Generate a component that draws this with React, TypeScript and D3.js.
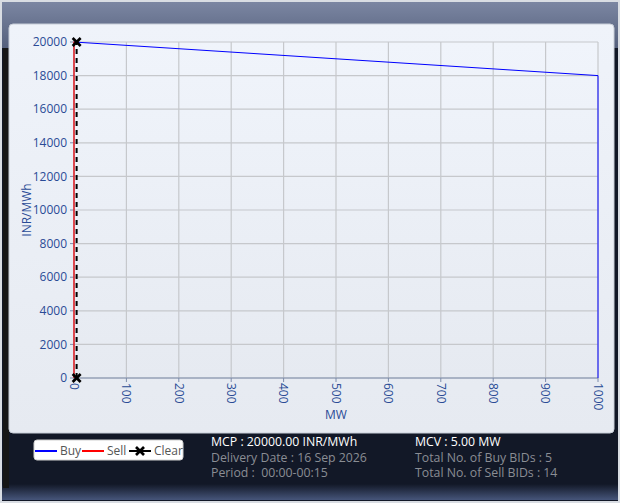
import React from "react";
import * as d3 from "d3";

const buyMW = [0, 1000, 1000];
const buyPrice = [20000, 18000, 0];
const sellMW = [0, 0, 5];
const sellPrice = [0, 20000, 20000];
const clearMW = [5, 5];
const clearPrice = [0, 20000];
const xTicks = [0, 100, 200, 300, 400, 500, 600, 700, 800, 900, 1000];
const yTicks = [0, 2000, 4000, 6000, 8000, 10000, 12000, 14000, 16000, 18000, 20000];
const infoLeft = ["MCP : 20000.00 INR/MWh", "Delivery Date : 16 Sep 2026", "Period :  00:00-00:15"];
const infoRight = ["MCV : 5.00 MW", "Total No. of Buy BIDs : 5", "Total No. of Sell BIDs : 14"];
const legendItems = ["Buy", "Sell", "Clear"];
const legendColors = ["#0000ff", "#ff0000", "#000000"];

const W = 620;
const H = 503;
const FONT = "'Open Sans', 'Noto Sans', sans-serif";

export default function App() {
  const x = d3.scaleLinear().domain([0, 1000]).range([74, 598]);
  const y = d3.scaleLinear().domain([0, 20000]).range([378, 42]);
  const line = d3
    .line<[number, number]>()
    .x((d) => x(d[0]))
    .y((d) => y(d[1]));
  const buy = buyMW.map((m, i) => [m, buyPrice[i]] as [number, number]);
  const sell = sellMW.map((m, i) => [m, sellPrice[i]] as [number, number]);
  const clear = clearMW.map((m, i) => [m, clearPrice[i]] as [number, number]);
  const tickColor = "#2a4b96";

  const cross = (cx: number, cy: number, key: string) => (
    <g key={key} stroke="#000" strokeWidth={2.6}>
      <line x1={cx - 4} y1={cy - 4} x2={cx + 4} y2={cy + 4} />
      <line x1={cx - 4} y1={cy + 4} x2={cx + 4} y2={cy - 4} />
    </g>
  );

  const legendX = [35, 82, 129];
  const legendTextX = [60, 107, 154];

  return (
    <svg
      width={W}
      height={H}
      style={{ position: "absolute", left: 0, top: 0, fontFamily: FONT }}
    >
      <defs>
        <linearGradient id="title" x1="0" y1="0" x2="0" y2="1">
          <stop offset="0" stopColor="#7b86a2" />
          <stop offset="1" stopColor="#55607c" />
        </linearGradient>
        <linearGradient id="bottom" x1="0" y1="0" x2="0" y2="1">
          <stop offset="0" stopColor="#121827" />
          <stop offset="1" stopColor="#46557a" />
        </linearGradient>
        <linearGradient id="panel" x1="0" y1="0" x2="0" y2="1">
          <stop offset="0" stopColor="#eff3fa" />
          <stop offset="1" stopColor="#e6eaf1" />
        </linearGradient>
        <linearGradient id="plot" x1="0" y1="0" x2="0" y2="1">
          <stop offset="0" stopColor="#f0f4fb" />
          <stop offset="1" stopColor="#e6eaf1" />
        </linearGradient>
      </defs>
      {/* window */}
      <rect x={0} y={0} width={W} height={H} fill="#d9dde3" />
      <rect x={2} y={2} width={W - 4} height={H - 4} fill="#121827" />
      <rect x={2} y={2} width={W - 4} height={46} fill="url(#title)" />
      <rect x={2} y={484} width={W - 4} height={16} fill="url(#bottom)" />
      <rect x={3} y={48} width={6} height={440} fill="#161616" />
      {/* panel */}
      <rect x={9} y={24} width={605} height={409} rx={4} fill="url(#panel)" stroke="#c8ced8" />
      {/* plot area */}
      <rect x={x(0)} y={y(20000)} width={x(1000) - x(0)} height={y(0) - y(20000)} fill="url(#plot)" />
      {/* grid */}
      <g stroke="#c6c8cc" strokeWidth={1.2}>
        {xTicks.map((t) => (
          <line key={"gx" + t} x1={x(t)} x2={x(t)} y1={y(0)} y2={y(20000)} />
        ))}
        {yTicks.map((t) => (
          <line key={"gy" + t} x1={x(0)} x2={x(1000)} y1={y(t)} y2={y(t)} />
        ))}
      </g>
      {/* axes */}
      <g stroke="#7d8cab" strokeWidth={1}>
        <line x1={x(0)} x2={x(0)} y1={y(0)} y2={y(20000)} />
        <line x1={x(0)} x2={x(1000)} y1={y(0)} y2={y(0)} />
        {yTicks.map((t) => (
          <line key={"ty" + t} x1={x(0) - 4} x2={x(0)} y1={y(t)} y2={y(t)} />
        ))}
        {xTicks.map((t) => (
          <line key={"tx" + t} x1={x(t)} x2={x(t)} y1={y(0)} y2={y(0) + 4} />
        ))}
      </g>
      <g fill={tickColor} fontSize={12}>
        {yTicks.map((t) => (
          <text key={"ly" + t} x={x(0) - 7} y={y(t)} dy="0.35em" textAnchor="end">
            {t}
          </text>
        ))}
        {xTicks.map((t) => (
          <text
            key={"lx" + t}
            transform={`translate(${x(t)},${y(0) + 5}) rotate(90)`}
            dy="0.35em"
            textAnchor="start"
          >
            {t}
          </text>
        ))}
        <text x={(x(0) + x(1000)) / 2} y={419} textAnchor="middle">MW</text>
        <text transform={`translate(31,${(y(0) + y(20000)) / 2}) rotate(-90)`} textAnchor="middle">
          INR/MWh
        </text>
      </g>
      {/* series */}
      <path d={line(buy) || ""} fill="none" stroke="#0000ff" strokeWidth={1} />
      <path d={line(sell) || ""} fill="none" stroke="#ff0000" strokeWidth={1.2} />
      <path d={line(clear) || ""} fill="none" stroke="#000" strokeWidth={2} strokeDasharray="5,4" />
      {clear.map((p, i) => cross(x(p[0]), y(p[1]), "c" + i))}
      {/* legend */}
      <rect x={34} y={440} width={149} height={20} rx={3} fill="#ffffff" stroke="#d0d0d0" />
      {legendItems.map((name, i) => (
        <g key={name}>
          <line
            x1={legendX[i]}
            x2={legendX[i] + 22}
            y1={451}
            y2={451}
            stroke={legendColors[i]}
            strokeWidth={2}
          />
          {i === 2 && cross(legendX[i] + 11, 451, "lc")}
          <text x={legendTextX[i]} y={455} fontSize={12} fill="#555">
            {name}
          </text>
        </g>
      ))}
      {/* info */}
      <g fontSize={12.3} style={{ whiteSpace: "pre" }}>
        {infoLeft.map((s, i) => (
          <text key={"il" + i} x={211} y={446 + i * 15.5} fill={i === 0 ? "#ffffff" : "#8a8d94"} xmlSpace="preserve">
            {s}
          </text>
        ))}
        {infoRight.map((s, i) => (
          <text key={"ir" + i} x={415} y={446 + i * 15.5} fill={i === 0 ? "#ffffff" : "#8a8d94"} xmlSpace="preserve">
            {s}
          </text>
        ))}
      </g>
    </svg>
  );
}
